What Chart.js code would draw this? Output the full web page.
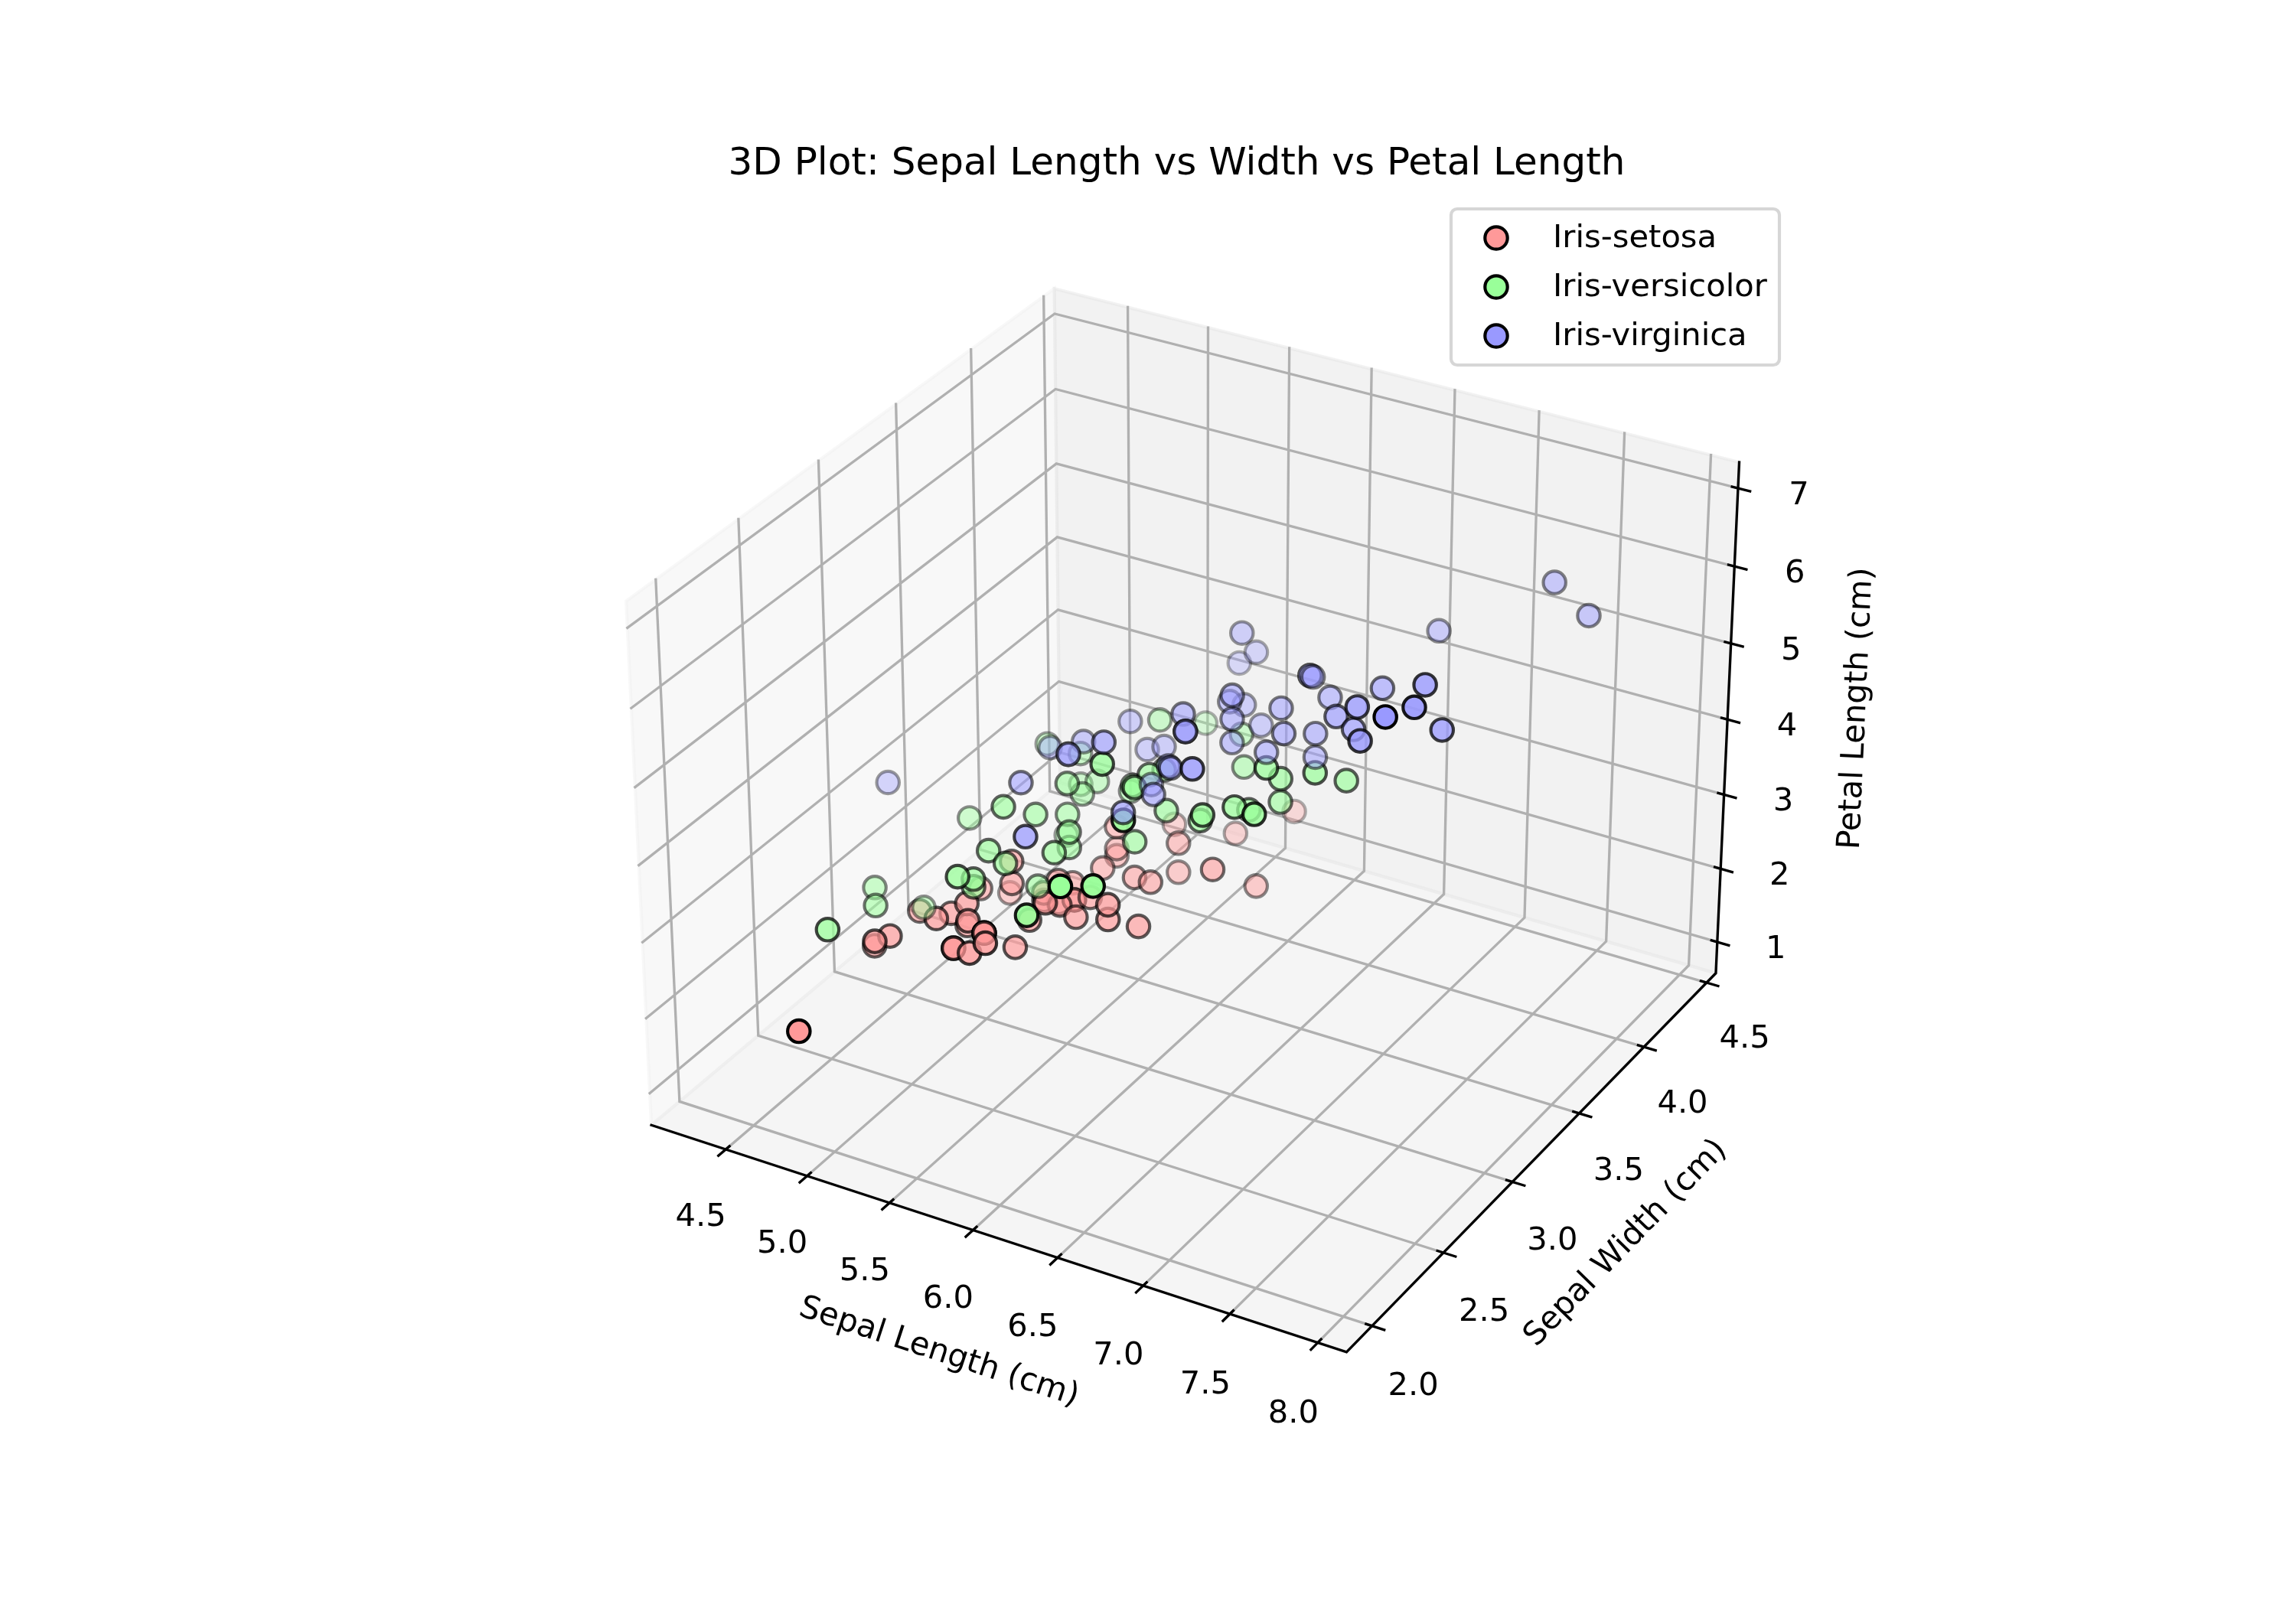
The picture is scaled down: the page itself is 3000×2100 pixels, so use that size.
<!DOCTYPE html>
<html>
<head>
<meta charset="utf-8">
<title>3D Plot: Sepal Length vs Width vs Petal Length</title>
<script src="https://cdn.jsdelivr.net/npm/chart.js@4"></script>
<style>
    html, body { margin: 0; background: #fff; }
    canvas { display: block; }
</style>
</head>
<body>
<canvas id="chart" width="3000" height="2100" style="width:3000px;height:2100px"></canvas>
<script>
const speciesNames = ['Iris-setosa', 'Iris-versicolor', 'Iris-virginica'];
const speciesColors = ['255,153,153', '153,255,153', '153,153,255'];

const setosaSepalLength = [5.1,4.9,4.7,4.6,5.0,5.4,4.6,5.0,4.4,4.9,5.4,4.8,4.8,4.3,5.8,5.7,5.4,5.1,5.7,5.1,5.4,5.1,4.6,5.1,4.8,5.0,5.0,5.2,5.2,4.7,4.8,5.4,5.2,5.5,4.9,5.0,5.5,4.9,4.4,5.1,5.0,4.5,4.4,5.0,5.1,4.8,5.1,4.6,5.3,5.0];
const setosaSepalWidth = [3.5,3.0,3.2,3.1,3.6,3.9,3.4,3.4,2.9,3.1,3.7,3.4,3.0,3.0,4.0,4.4,3.9,3.5,3.8,3.8,3.4,3.7,3.6,3.3,3.4,3.0,3.4,3.5,3.4,3.2,3.1,3.4,4.1,4.2,3.1,3.2,3.5,3.1,3.0,3.4,3.5,2.3,3.2,3.5,3.8,3.0,3.8,3.2,3.7,3.3];
const setosaPetalLength = [1.4,1.4,1.3,1.5,1.4,1.7,1.4,1.5,1.4,1.5,1.5,1.6,1.4,1.1,1.2,1.5,1.3,1.4,1.7,1.5,1.7,1.5,1.0,1.7,1.9,1.6,1.6,1.5,1.4,1.6,1.6,1.5,1.5,1.4,1.5,1.2,1.3,1.5,1.3,1.5,1.3,1.3,1.3,1.6,1.9,1.4,1.6,1.4,1.5,1.4];

const versicolorSepalLength = [7.0,6.4,6.9,5.5,6.5,5.7,6.3,4.9,6.6,5.2,5.0,5.9,6.0,6.1,5.6,6.7,5.6,5.8,6.2,5.6,5.9,6.1,6.3,6.1,6.4,6.6,6.8,6.7,6.0,5.7,5.5,5.5,5.8,6.0,5.4,6.0,6.7,6.3,5.6,5.5,5.5,6.1,5.8,5.0,5.6,5.7,5.7,6.2,5.1,5.7];
const versicolorSepalWidth = [3.2,3.2,3.1,2.3,2.8,2.8,3.3,2.4,2.9,2.7,2.0,3.0,2.2,2.9,2.9,3.1,3.0,2.7,2.2,2.5,3.2,2.8,2.5,2.8,2.9,3.0,2.8,3.0,2.9,2.6,2.4,2.4,2.7,2.7,3.0,3.4,3.1,2.3,3.0,2.5,2.6,3.0,2.6,2.3,2.7,3.0,2.9,2.9,2.5,2.8];
const versicolorPetalLength = [4.7,4.5,4.9,4.0,4.6,4.5,4.7,3.3,4.6,3.9,3.5,4.2,4.0,4.7,3.6,4.4,4.5,4.1,4.5,3.9,4.8,4.0,4.9,4.7,4.3,4.4,4.8,5.0,4.5,3.5,3.8,3.7,3.9,5.1,4.5,4.5,4.7,4.4,4.1,4.0,4.4,4.6,4.0,3.3,4.2,4.2,4.2,4.3,3.0,4.1];

const virginicaSepalLength = [6.3,5.8,7.1,6.3,6.5,7.6,4.9,7.3,6.7,7.2,6.5,6.4,6.8,5.7,5.8,6.4,6.5,7.7,7.7,6.0,6.9,5.6,7.7,6.3,6.7,7.2,6.2,6.1,6.4,7.2,7.4,7.9,6.4,6.3,6.1,7.7,6.3,6.4,6.0,6.9,6.7,6.9,5.8,6.8,6.7,6.7,6.3,6.5,6.2,5.9];
const virginicaSepalWidth = [3.3,2.7,3.0,2.9,3.0,3.0,2.5,2.9,2.5,3.6,3.2,2.7,3.0,2.5,2.8,3.2,3.0,3.8,2.6,2.2,3.2,2.8,2.8,2.7,3.3,3.2,2.8,3.0,2.8,3.0,2.8,3.8,2.8,2.8,2.6,3.0,3.4,3.1,3.0,3.1,3.1,3.1,2.7,3.2,3.3,3.0,2.5,3.0,3.4,3.0];
const virginicaPetalLength = [6.0,5.1,5.9,5.6,5.8,6.6,4.5,6.3,5.8,6.1,5.1,5.3,5.5,5.0,5.1,5.3,5.5,6.7,6.9,5.0,5.7,4.9,6.7,4.9,5.7,6.0,4.8,4.9,5.6,5.8,6.1,6.4,5.6,5.1,5.6,6.1,5.6,5.5,4.8,5.4,5.6,5.1,5.1,5.9,5.7,5.2,5.0,5.2,5.4,5.1];

const xTicks = [4.5, 5.0, 5.5, 6.0, 6.5, 7.0, 7.5, 8.0];
const yTicks = [2.0, 2.5, 3.0, 3.5, 4.0, 4.5];
const zTicks = [1, 2, 3, 4, 5, 6, 7];
const xLabels = ['4.5', '5.0', '5.5', '6.0', '6.5', '7.0', '7.5', '8.0'];
const yLabels = ['2.0', '2.5', '3.0', '3.5', '4.0', '4.5'];
const zLabels = ['1', '2', '3', '4', '5', '6', '7'];

const xLim = [4.0375, 8.1625];
const yLim = [1.825, 4.575];
const zLim = [0.5698, 7.3302];

const FONT = '"DejaVu Sans"';
const PT = 300 / 72;

// same camera as a default 3d axes: elev 30, azim -60, box 4:4:3
const elev = 30 * Math.PI / 180, azim = -60 * Math.PI / 180, dist = 10;
const boxScale = 1.8294640721620434 * 25 / 24 / Math.sqrt(4 * 4 + 4 * 4 + 3 * 3);
const box = [4 * boxScale, 4 * boxScale, 3 * boxScale];
const w3 = [Math.cos(elev) * Math.cos(azim), Math.cos(elev) * Math.sin(azim), Math.sin(elev)];
const eye = [box[0] / 2 + dist * w3[0], box[1] / 2 + dist * w3[1], box[2] / 2 + dist * w3[2]];
const uLen = Math.hypot(w3[0], w3[1]);
const u3 = [-w3[1] / uLen, w3[0] / uLen, 0];
const v3 = [w3[1] * u3[2] - w3[2] * u3[1], w3[2] * u3[0] - w3[0] * u3[2], w3[0] * u3[1] - w3[1] * u3[0]];

const project = (x, y, z) => {
    const p = [
        (x - xLim[0]) / (xLim[1] - xLim[0]) * box[0] - eye[0],
        (y - yLim[0]) / (yLim[1] - yLim[0]) * box[1] - eye[1],
        (z - zLim[0]) / (zLim[1] - zLim[0]) * box[2] - eye[2]
    ];
    const dot = (a) => a[0] * p[0] + a[1] * p[1] + a[2] * p[2];
    const vz = dot(w3);
    return {x: dot(u3) / -vz, y: dot(v3) / -vz, depth: dist / vz};
};

const buildSeries = (index, lengths, widths, petals) => {
    const pts = lengths.map((v, i) => project(v, widths[i], petals[i]));
    const depths = pts.map(p => p.depth);
    const lo = Math.min(...depths), hi = Math.max(...depths);
    pts.sort((a, b) => b.depth - a.depth);
    // far points fade out down to 0.3
    const alphas = pts.map(p => 1 - (p.depth - lo) / (hi - lo) * 0.7);
    return {
        label: speciesNames[index],
        data: pts.map(p => ({x: p.x, y: p.y})),
        pointRadius: 14.7,
        pointBorderWidth: PT,
        pointBackgroundColor: alphas.map(a => `rgba(${speciesColors[index]},${a})`),
        pointBorderColor: alphas.map(a => `rgba(0,0,0,${a})`),
        showLine: false,
        clip: false,
        minDepth: lo
    };
};

const series = [
    buildSeries(0, setosaSepalLength, setosaSepalWidth, setosaPetalLength),
    buildSeries(1, versicolorSepalLength, versicolorSepalWidth, versicolorPetalLength),
    buildSeries(2, virginicaSepalLength, virginicaSepalWidth, virginicaPetalLength)
];
// the collection with the nearest point goes on top
[...series].sort((a, b) => a.minDepth - b.minDepth).forEach((s, i) => { s.order = i; });

const polyline = (corners) => corners.map(c => project(c[0], c[1], c[2])).map(p => ({x: p.x, y: p.y}));
const segments = (lines) => {
    const out = [];
    lines.forEach(l => {
        out.push(...polyline(l));
        out.push({x: NaN, y: NaN});
    });
    return out;
};
const lineSet = (name, lines, color, width, order) => ({
    label: name,
    data: segments(lines),
    showLine: true,
    spanGaps: false,
    pointRadius: 0,
    borderColor: color,
    borderWidth: width,
    borderCapStyle: 'square',
    tension: 0,
    clip: false,
    order: order
});

const [x0, x1] = xLim, [y0, y1] = yLim, [z0, z1] = zLim;
const gridLines = [
    ...xTicks.map(t => [[t, y0, z0], [t, y1, z0], [t, y1, z1]]),
    ...yTicks.map(t => [[x1, t, z0], [x0, t, z0], [x0, t, z1]]),
    ...zTicks.map(t => [[x1, y1, t], [x0, y1, t], [x0, y0, t]])
];
const dx = (x1 - x0) / 12, dy = (y1 - y0) / 12, dz = (z1 - z0) / 12;
const tickLines = [
    ...xTicks.map(t => [[t, y0 + 0.1 * dy, z0], [t, y0 - 0.2 * dy, z0]]),
    ...yTicks.map(t => [[x1 - 0.1 * dx, t, z0], [x1 + 0.2 * dx, t, z0]]),
    ...zTicks.map(t => [[x1 - 0.1 * dx, y1, t], [x1 + 0.2 * dx, y1, t]])
];
const axisLines = [
    [[x0, y0, z0], [x1, y0, z0], [x1, y1, z0], [x1, y1, z1]]
];

const panes = [
    {color: 'rgba(242,242,242,0.5)', corners: [[x0, y0, z0], [x0, y1, z0], [x0, y1, z1], [x0, y0, z1]]},
    {color: 'rgba(230,230,230,0.5)', corners: [[x0, y1, z0], [x1, y1, z0], [x1, y1, z1], [x0, y1, z1]]},
    {color: 'rgba(236,236,236,0.5)', corners: [[x0, y0, z0], [x1, y0, z0], [x1, y1, z0], [x0, y1, z0]]}
];

const xc = (x0 + x1) / 2, yc = (y0 + y1) / 2;
const perPoint = 48 / (2 * 72 * 0.77 * 7);
const tickLabelShift = (3.5 + 8) * perPoint;
const axisLabelShift = (4 + 21) * perPoint;

const scene3d = {
    id: 'scene3d',
    beforeDatasetsDraw(chart) {
        const {ctx, scales} = chart;
        ctx.save();
        panes.forEach(pane => {
            ctx.beginPath();
            polyline(pane.corners).forEach((p, i) => {
                const px = scales.x.getPixelForValue(p.x), py = scales.y.getPixelForValue(p.y);
                if (i === 0) ctx.moveTo(px, py); else ctx.lineTo(px, py);
            });
            ctx.closePath();
            ctx.fillStyle = pane.color;
            ctx.strokeStyle = pane.color;
            ctx.lineWidth = PT;
            ctx.fill();
            ctx.stroke();
        });
        ctx.restore();
    },
    afterDatasetsDraw(chart) {
        const {ctx, scales} = chart;
        const toPixel = (x, y, z) => {
            const p = project(x, y, z);
            return [scales.x.getPixelForValue(p.x), scales.y.getPixelForValue(p.y)];
        };
        ctx.save();
        ctx.fillStyle = '#000';
        ctx.textAlign = 'center';
        ctx.textBaseline = 'middle';
        ctx.font = `${10 * PT}px ${FONT}`;

        const tickLabel = (text, x, y, z, nudgeX) => {
            const [px, py] = toPixel(x, y, z);
            ctx.fillText(text, px + nudgeX, py + 21);
        };
        xTicks.forEach((t, i) => tickLabel(xLabels[i], t, y0 - tickLabelShift * dy, z0 - tickLabelShift * dz, 0));
        yTicks.forEach((t, i) => tickLabel(yLabels[i], x1 + tickLabelShift * dx, t, z0 - tickLabelShift * dz, -2));
        zTicks.forEach((t, i) => tickLabel(zLabels[i], x1 + tickLabelShift * dx, y1 + tickLabelShift * dy, t, -3));

        const axisLabel = (text, from, to, at, nudge) => {
            const a = toPixel(...from), b = toPixel(...to);
            let angle = Math.atan2(b[1] - a[1], b[0] - a[0]);
            if (angle > Math.PI / 2) angle -= Math.PI;
            if (angle < -Math.PI / 2) angle += Math.PI;
            const [px, py] = toPixel(...at);
            ctx.save();
            ctx.translate(px + nudge[0], py + nudge[1]);
            ctx.rotate(angle);
            ctx.fillText(text, 0, 0);
            ctx.restore();
        };
        axisLabel('Sepal Length (cm)', [x0, y0, z0], [x1, y0, z0], [xc, y0 - axisLabelShift * dy, z0 - axisLabelShift * dz], [4, 0]);
        axisLabel('Sepal Width (cm)', [x1, y0, z0], [x1, y1, z0], [x1 + axisLabelShift * dx, yc, z0 - axisLabelShift * dz], [-4, -5]);
        axisLabel('Petal Length (cm)', [x1, y1, z0], [x1, y1, z1], [x1 + axisLabelShift * dx, y1 + axisLabelShift * dy, (z0 + z1) / 2], [-6, 4]);

        // legend box, upper right of the axes
        const left = 1896, top = 273, width = 429, height = 204;
        ctx.beginPath();
        ctx.roundRect(left, top, width, height, 8);
        ctx.fillStyle = 'rgba(255,255,255,0.8)';
        ctx.strokeStyle = 'rgba(204,204,204,0.8)';
        ctx.lineWidth = PT;
        ctx.fill();
        ctx.stroke();
        speciesNames.forEach((name, i) => {
            const cy = top + 38 + i * 64;
            ctx.beginPath();
            ctx.arc(left + 59, cy, 14.7, 0, Math.PI * 2);
            ctx.fillStyle = `rgb(${speciesColors[i]})`;
            ctx.strokeStyle = '#000';
            ctx.lineWidth = PT;
            ctx.fill();
            ctx.stroke();
            ctx.fillStyle = '#000';
            ctx.textAlign = 'left';
            ctx.fillText(name, left + 133, cy + 1);
        });
        ctx.restore();
    }
};

new Chart(document.getElementById('chart'), {
    type: 'scatter',
    data: {
        datasets: [
            ...series,
            lineSet('grid', gridLines, 'rgb(176,176,176)', 0.8 * PT, 12),
            lineSet('ticks', tickLines, '#000', 0.8 * PT, 11),
            lineSet('axes', axisLines, '#000', 0.8 * PT, 10)
        ]
    },
    options: {
        responsive: false,
        devicePixelRatio: 1,
        animation: false,
        events: [],
        layout: {padding: {left: 729, right: 654, top: 185, bottom: 231}},
        scales: {
            x: {type: 'linear', display: false, min: -0.095, max: 0.09},
            y: {type: 'linear', display: false, min: -0.095, max: 0.09}
        },
        plugins: {
            legend: {display: false},
            tooltip: {enabled: false},
            title: {
                display: true,
                text: '3D Plot: Sepal Length vs Width vs Petal Length',
                fullSize: false,
                color: '#000',
                font: {family: FONT, size: 12 * PT, weight: 'normal', lineHeight: 1.2},
                padding: {top: 0, bottom: 7}
            }
        }
    },
    plugins: [scene3d]
});
</script>
</body>
</html>
